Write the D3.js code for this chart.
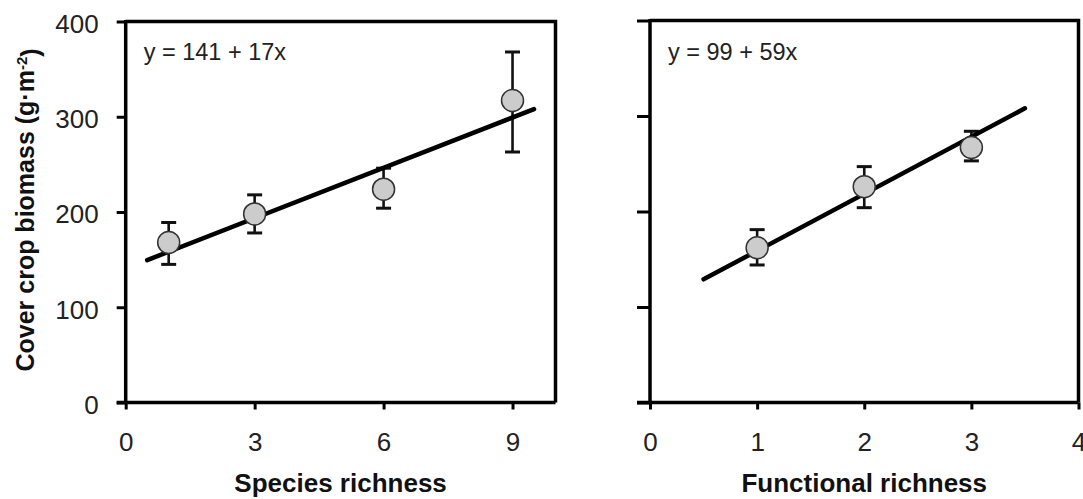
<!DOCTYPE html>
<html>
<head>
<meta charset="utf-8">
<script src="https://cdn.jsdelivr.net/npm/d3@7"></script>
<style>
  html, body { margin: 0; padding: 0; background: #fff; }
  svg { display: block; }
  text { font-family: "Liberation Sans", Arial, Helvetica, sans-serif; fill: #111; }
</style>
</head>
<body>
<svg id="chart" width="1083" height="499"></svg>
<script>
// ---- Data ----
const yTicks = [0, 100, 200, 300, 400];

const speciesTicks = [0, 3, 6, 9];
const speciesX = [1, 3, 6, 9];
const speciesMean = [168, 198, 224, 317];
const speciesLow = [145, 178, 204, 263];
const speciesHigh = [189, 218, 246, 368];
const speciesFitX = [0.5, 9.5];
const speciesFitY = [149.5, 308];
const speciesEquation = "y = 141 + 17x";
const speciesTitle = "Species richness";

const functionalTicks = [0, 1, 2, 3, 4];
const functionalX = [1, 2, 3];
const functionalMean = [162, 226, 267];
const functionalLow = [144, 204, 253];
const functionalHigh = [181, 247, 284];
const functionalFitX = [0.5, 3.5];
const functionalFitY = [129, 308];
const functionalEquation = "y = 99 + 59x";
const functionalTitle = "Functional richness";

const yTitle = "Cover crop biomass (g\u00B7m";
const yTitleSup = "-2";

// ---- Drawing ----
const svg = d3.select("#chart");

const panels = [
  { xDomain: [0, 10], xRange: [125.7, 555.5], yRange: [402.5, 21.5], ticks: speciesTicks,
    xs: speciesX, mean: speciesMean, low: speciesLow, high: speciesHigh,
    fitX: speciesFitX, fitY: speciesFitY, eq: speciesEquation, title: speciesTitle,
    yLabels: true, yTickLen: 9 },
  { xDomain: [0, 4], xRange: [650, 1078.5], yRange: [402.5, 20.5], ticks: functionalTicks,
    xs: functionalX, mean: functionalMean, low: functionalLow, high: functionalHigh,
    fitX: functionalFitX, fitY: functionalFitY, eq: functionalEquation, title: functionalTitle,
    yLabels: false, yTickLen: 13 }
];

panels.forEach(p => {
  const x = d3.scaleLinear().domain(p.xDomain).range(p.xRange);
  const y = d3.scaleLinear().domain([0, 400]).range(p.yRange);
  const g = svg.append("g");

  // box (top and right)
  g.append("path")
    .attr("d", `M${x.range()[0]},${y(400)}H${x.range()[1]}V${y(0)}`)
    .attr("fill", "none").attr("stroke", "#000").attr("stroke-width", 3.5);

  // x axis
  const xAxis = g.append("g")
    .attr("transform", `translate(0,${y(0)})`)
    .call(d3.axisBottom(x).tickValues(p.ticks).tickSize(7).tickSizeOuter(0).tickFormat(d3.format("d")));
  xAxis.select(".domain").remove();
  xAxis.selectAll(".tick line").attr("stroke", "#000").attr("stroke-width", 3);
  xAxis.selectAll(".tick text")
    .attr("y", 0).attr("dy", 0)
    .attr("transform", "translate(0,48)")
    .style("font-size", "26px").style("fill", "#222");
  g.append("line")
    .attr("x1", x.range()[0] - p.yTickLen).attr("x2", x.range()[1])
    .attr("y1", y(0)).attr("y2", y(0))
    .attr("stroke", "#000").attr("stroke-width", 3.5);

  // y axis
  const yAxis = g.append("g")
    .attr("transform", `translate(${x.range()[0]},0)`)
    .call(d3.axisLeft(y).tickValues(yTicks).tickSize(p.yTickLen).tickSizeOuter(0)
      .tickFormat(p.yLabels ? d3.format("d") : () => ""));
  yAxis.select(".domain").remove();
  yAxis.selectAll(".tick line").attr("stroke", "#000").attr("stroke-width", 3);
  yAxis.selectAll(".tick text")
    .attr("x", -27).attr("dy", "0.42em")
    .style("font-size", "26px").style("fill", "#222");
  g.append("line")
    .attr("x1", x.range()[0]).attr("x2", x.range()[0])
    .attr("y1", y(400) - 1.5).attr("y2", y(0) + 1.5)
    .attr("stroke", "#000").attr("stroke-width", 3.5);

  const pts = p.xs.map((v, i) => ({ x: v, m: p.mean[i], lo: p.low[i], hi: p.high[i] }));

  // error bars
  const eb = g.append("g").attr("stroke", "#111").attr("stroke-width", 2.6);
  eb.selectAll("line.v").data(pts).join("line").attr("class", "v")
    .attr("x1", d => x(d.x)).attr("x2", d => x(d.x))
    .attr("y1", d => y(d.lo)).attr("y2", d => y(d.hi));
  eb.selectAll("line.hi").data(pts).join("line").attr("class", "hi")
    .attr("x1", d => x(d.x) - 7.5).attr("x2", d => x(d.x) + 7.5)
    .attr("y1", d => y(d.hi)).attr("y2", d => y(d.hi)).attr("stroke-width", 3);
  eb.selectAll("line.lo").data(pts).join("line").attr("class", "lo")
    .attr("x1", d => x(d.x) - 7.5).attr("x2", d => x(d.x) + 7.5)
    .attr("y1", d => y(d.lo)).attr("y2", d => y(d.lo)).attr("stroke-width", 3);

  // fitted line
  const fit = p.fitX.map((v, i) => [v, p.fitY[i]]);
  g.append("path")
    .datum(fit)
    .attr("d", d3.line().x(d => x(d[0])).y(d => y(d[1])))
    .attr("fill", "none").attr("stroke", "#000").attr("stroke-width", 4.5)
    .attr("stroke-linecap", "round");

  // points
  g.selectAll("circle").data(pts).join("circle")
    .attr("cx", d => x(d.x)).attr("cy", d => y(d.m)).attr("r", 11)
    .attr("fill", "#cccccc").attr("stroke", "#333").attr("stroke-width", 1.5);

  // equation
  g.append("text")
    .attr("x", x.range()[0] + 18).attr("y", 59.5)
    .style("font-size", "23.5px").style("fill", "#222")
    .text(p.eq);

  // x title
  g.append("text")
    .attr("x", (x.range()[0] + x.range()[1]) / 2).attr("y", 492)
    .attr("text-anchor", "middle")
    .style("font-size", "26px").style("font-weight", "bold")
    .text(p.title);
});

// y title
const yt = svg.append("text")
  .attr("transform", "translate(34,210) rotate(-90)")
  .attr("text-anchor", "middle")
  .style("font-size", "25px").style("font-weight", "bold");
yt.append("tspan").text(yTitle);
yt.append("tspan").attr("dy", "-0.45em").style("font-size", "15px").text(yTitleSup);
yt.append("tspan").attr("dy", "0.45em").text(")");
</script>
</body>
</html>
